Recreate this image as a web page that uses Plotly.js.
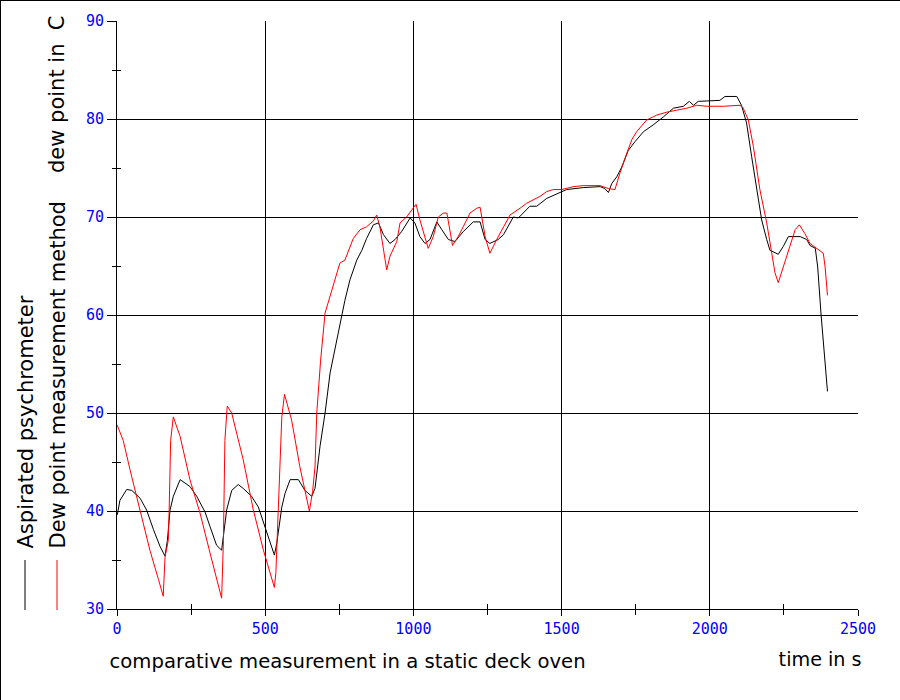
<!DOCTYPE html>
<html><head><meta charset="utf-8">
<script src="https://cdn.plot.ly/plotly-3.0.1.min.js"></script>
<style>html,body{margin:0;padding:0;background:#fff}#chart{width:900px;height:700px}</style>
</head><body><div id="chart"></div>
<script>
// Aspirated psychrometer (black)
const tBlack = [1,10,33,50,78,100,123,145,162,170,179,190,213,246,269,297,314,336,353,359,370,387,409,426,454,477,499,516,531,539,556,567,584,612,634,657,668,685,702,719,741,758,769,786,809,826,842,865,882,899,921,938,960,989,1005,1022,1039,1056,1079,1096,1118,1140,1168,1202,1225,1242,1258,1286,1304,1337,1354,1393,1416,1450,1489,1517,1573,1630,1646,1658,1669,1686,1703,1725,1748,1776,1809,1843,1877,1911,1931,1945,1961,2034,2051,2091,2107,2124,2141,2158,2175,2192,2203,2231,2248,2265,2305,2327,2338,2356,2364,2375,2389,2397];
const vBlack = [39.6,41.1,42.2,42.1,41.3,40.1,38.1,36.4,35.4,37,40.1,41.5,43.2,42.5,41.5,39.9,38.4,36.5,36.0,37.7,40.1,42.1,42.7,42.3,41.5,40.4,38.4,36.7,35.5,36.7,40.4,41.8,43.2,43.2,42.1,41.5,42.3,46.6,50,54.1,57.4,59.8,61.5,63.6,65.6,66.6,67.8,69.2,69.4,68.2,67.3,67.7,68.5,69.9,69.4,68,67.3,67.7,69.5,68.7,67.7,67.5,68.5,69.5,69.5,67.7,67.3,67.7,68.2,70,69.9,71.1,71.1,71.9,72.4,72.8,73.0,73.1,72.9,72.5,73.4,74.1,75.1,76.8,77.7,78.7,79.4,80.2,81.1,81.3,81.8,81.4,81.8,81.9,82.3,82.3,81.4,79.6,76.2,73.1,69.7,67.7,66.6,66.2,67.0,68.0,68.0,67.7,67.1,66.8,64.9,60.2,55.1,52.2];
// Dew point measurement method (red)
const tRed = [0,21,44,78,111,140,156,162,173,176,181,190,213,246,280,314,353,359,364,372,387,426,460,494,531,536,544,556,565,589,617,649,660,668,674,687,702,719,741,752,769,786,797,820,842,865,876,887,910,921,944,955,977,994,1009,1022,1050,1067,1084,1101,1113,1132,1151,1168,1191,1214,1225,1242,1258,1281,1304,1326,1360,1382,1427,1450,1472,1500,1540,1573,1630,1658,1680,1697,1720,1737,1753,1787,1821,1855,1888,1922,1956,1990,2046,2102,2113,2130,2147,2169,2192,2209,2220,2231,2248,2271,2288,2302,2321,2338,2361,2383,2389,2397];
const vRed = [48.8,47.2,44.2,40.1,36.0,33.0,31.3,35.3,37.0,40.1,47.2,49.6,47.6,43.2,39.8,35.7,31.1,37.0,47.2,50.7,50.0,45.2,40.1,36.0,32.2,33.7,40.1,49.6,51.9,49.3,44.5,40.0,42,44.5,50,55.4,60.2,61.9,64.3,65.3,65.6,67,67.8,68.7,69.0,69.6,70.2,69.0,64.6,66,67.5,69.4,70.0,70.7,71.3,69.7,66.8,68,70,70.4,70.4,67.1,68,69,70.4,70.9,71,68,66.3,67.7,69,70.2,70.9,71.4,72.1,72.6,72.8,72.8,73.1,73.2,73.2,72.9,72.8,74.5,76.5,77.9,78.7,79.9,80.4,80.7,80.9,81.1,81.4,81.3,81.3,81.4,81.1,79.9,77.2,72.8,69.4,66,64.3,63.3,64.9,67.3,68.7,69.2,68.3,67.3,66.8,66.3,64.9,62.0];
const xTicks = [0,500,1000,1500,2000,2500];
const yTicks = [30,40,50,60,70,80,90];

const W=741, H=588, L=117, T=21;
const px = x => (x-L)/W;            // pixel -> paper x
const py = y => (T+H-y)/H;          // pixel -> paper y

const traces = [
  {x:tBlack, y:vBlack, type:'scatter', mode:'lines', line:{color:'#000000', width:1}, hoverinfo:'skip'},
  {x:tRed, y:vRed, type:'scatter', mode:'lines', line:{color:'#ff0000', width:1}, hoverinfo:'skip'},
  {x:[0], y:[30], xaxis:'x2', yaxis:'y2', mode:'markers', marker:{opacity:0}, hoverinfo:'skip'}
];
const tickFont = {family:'DejaVu Sans Mono', size:15, color:'#0000ff'};
const txtFont = {family:'DejaVu Sans', size:21, color:'#000'};
const layout = {
  width:900, height:700,
  margin:{l:L, r:900-L-W, t:T, b:700-T-H, pad:0},
  paper_bgcolor:'#fff', plot_bgcolor:'#fff',
  showlegend:false,
  xaxis:{range:[0,2500], tickvals:xTicks, ticktext:xTicks.map(String), showgrid:true, gridcolor:'#000', gridwidth:1,
    zeroline:false, showline:true, linecolor:'#000', linewidth:1, ticks:'outside', ticklen:6, tickcolor:'#000',
    tickfont:tickFont, minor:{tickvals:[250,750,1250,1750,2250], ticks:'outside', ticklen:5, tickcolor:'#000', showgrid:false}},
  yaxis:{range:[30,90], tickvals:yTicks, ticktext:yTicks.map(String), showgrid:true, gridcolor:'#000', gridwidth:1,
    zeroline:false, showline:true, linecolor:'#000', linewidth:1, ticks:'outside', ticklen:9, tickcolor:'#000',
    tickfont:tickFont, minor:{tickvals:[35,45,55,65,75,85], ticks:'outside', ticklen:4, tickcolor:'#000', showgrid:false}},
  xaxis2:{overlaying:'x', range:[0,2500], showgrid:false, zeroline:false, showticklabels:false,
    tickvals:[250,750,1250,1750,2250], ticks:'inside', ticklen:5, tickcolor:'#000'},
  yaxis2:{overlaying:'y', range:[30,90], showgrid:false, zeroline:false, showticklabels:false,
    tickvals:[35,45,55,65,75,85], ticks:'inside', ticklen:4, tickcolor:'#000'},
  shapes:[
    {type:'line', xref:'paper', yref:'paper', x0:px(0), x1:px(900), y0:py(0.5), y1:py(0.5), line:{color:'#000', width:1}},
    {type:'line', xref:'paper', yref:'paper', x0:px(0.5), x1:px(0.5), y0:py(0), y1:py(700), line:{color:'#000', width:1}},
    {type:'line', xref:'paper', yref:'paper', x0:px(25), x1:px(25), y0:py(560), y1:py(610), line:{color:'#000', width:1}},
    {type:'line', xref:'paper', yref:'paper', x0:px(57), x1:px(57), y0:py(560), y1:py(610), line:{color:'#ff0000', width:1}}
  ],
  annotations:[
    {text:'Aspirated psychrometer', xref:'paper', yref:'paper', x:px(25), y:py(551), xanchor:'center', yanchor:'bottom', textangle:-90, showarrow:false, font:txtFont},
    {text:'Dew point measurement method', xref:'paper', yref:'paper', x:px(57), y:py(551), xanchor:'center', yanchor:'bottom', textangle:-90, showarrow:false, font:txtFont},
    {text:'dew point in  C', xref:'paper', yref:'paper', x:px(57), y:py(13), xanchor:'center', yanchor:'top', textangle:-90, showarrow:false, font:txtFont},
    {text:'comparative measurement in a static deck oven', xref:'paper', yref:'paper', x:px(347), y:py(661), xanchor:'center', yanchor:'middle', showarrow:false, font:{family:'DejaVu Sans', size:19, color:'#000'}},
    {text:'time in s', xref:'paper', yref:'paper', x:px(820), y:py(659), xanchor:'center', yanchor:'middle', showarrow:false, font:{family:'DejaVu Sans', size:19, color:'#000'}}
  ]
};
Plotly.newPlot('chart', traces, layout, {staticPlot:true, displayModeBar:false}).then(gd => {
  const texts = gd.querySelectorAll('.annotation-text');
  texts.forEach(t => {
    const s = t.textContent;
    if (s.startsWith('comparative')) { t.setAttribute('textLength', 476); t.setAttribute('lengthAdjust', 'spacingAndGlyphs'); }
    if (s.startsWith('time in')) { t.setAttribute('textLength', 83); t.setAttribute('lengthAdjust', 'spacingAndGlyphs'); }
  });
});
</script></body></html>
